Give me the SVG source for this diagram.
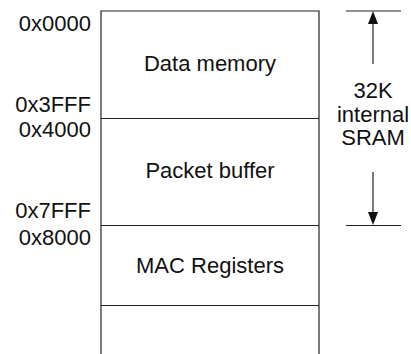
<svg xmlns="http://www.w3.org/2000/svg" width="411" height="354" viewBox="0 0 411 354">
<style>
text{font-family:"Liberation Sans",Arial,sans-serif;font-size:22px;fill:#111}
.addr{text-anchor:end}
.mid{text-anchor:middle}
.ln{stroke:#222;stroke-width:1.2;fill:none}
.head{fill:#111;stroke:none}
</style>
<rect width="411" height="354" fill="#fff"/>
<g id="memory-map">
<path class="ln" d="M101,354 V11 H319 V354"/>
</g>
<g id="data-memory">
<text class="mid" x="210" y="71">Data memory</text>
<line class="ln" x1="101" y1="118.5" x2="319" y2="118.5"/>
</g>
<g id="packet-buffer">
<text class="mid" x="210" y="178">Packet buffer</text>
<line class="ln" x1="101" y1="225.5" x2="319" y2="225.5"/>
</g>
<g id="mac-registers">
<text class="mid" x="210" y="273">MAC Registers</text>
<line class="ln" x1="101" y1="305.5" x2="319" y2="305.5"/>
</g>
<g id="addresses">
<text class="addr" x="91" y="31">0x0000</text>
<text class="addr" x="91" y="112">0x3FFF</text>
<text class="addr" x="91" y="137">0x4000</text>
<text class="addr" x="91" y="218">0x7FFF</text>
<text class="addr" x="91" y="245">0x8000</text>
</g>
<g id="sram-label">
<text class="mid" x="373" y="98">32K</text>
<text class="mid" x="373" y="122">internal</text>
<text class="mid" x="373" y="145">SRAM</text>
</g>
<g id="connectors">
<line class="ln" x1="346" y1="11" x2="401" y2="11"/>
<line class="ln" x1="346" y1="225.5" x2="401" y2="225.5"/>
<line class="ln" x1="373" y1="22" x2="373" y2="64"/>
<polygon class="head" points="373,11 368,24 378,24"/>
<line class="ln" x1="373" y1="172" x2="373" y2="214"/>
<polygon class="head" points="373,225 368,212 378,212"/>
</g>
</svg>
